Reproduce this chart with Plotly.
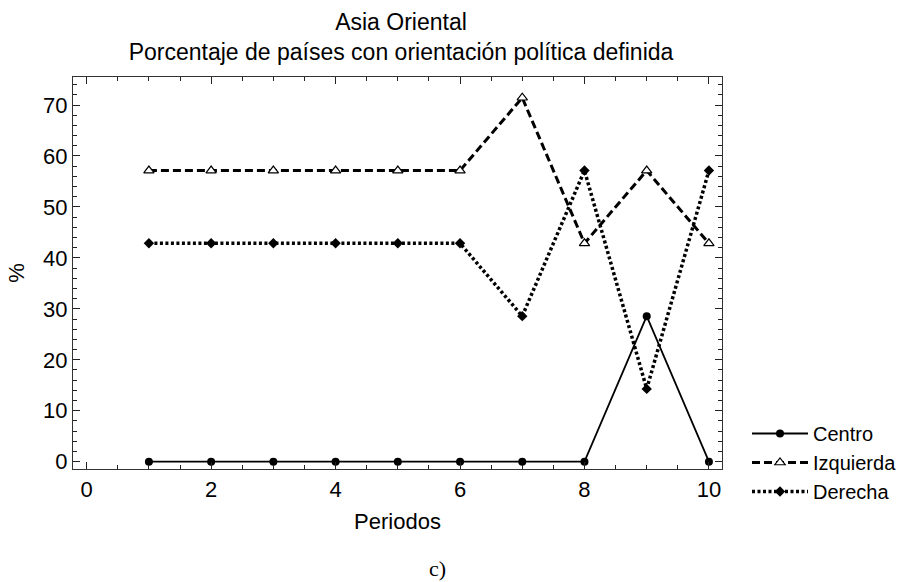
import plotly.graph_objects as go

periodos = [1, 2, 3, 4, 5, 6, 7, 8, 9, 10]
centro = [0, 0, 0, 0, 0, 0, 0, 0, 28.57, 0]
izquierda = [57.14, 57.14, 57.14, 57.14, 57.14, 57.14, 71.43, 42.86, 57.14, 42.86]
derecha = [42.86, 42.86, 42.86, 42.86, 42.86, 42.86, 28.57, 57.14, 14.29, 57.14]
x_ticks = [0, 2, 4, 6, 8, 10]
y_ticks = [0, 10, 20, 30, 40, 50, 60, 70]

W, H = 907, 582
L, R, T, B = 73, 185, 77, 113
PW, PH = W - L - R, H - T - B

fig = go.Figure()
fig.add_trace(go.Scatter(x=periodos, y=centro, name="Centro", mode="lines+markers",
                         line=dict(color="black", width=1.8, dash="solid"),
                         marker=dict(symbol="circle", size=8, color="black")))
fig.add_trace(go.Scatter(x=periodos, y=izquierda, name="Izquierda", mode="lines+markers",
                         line=dict(color="black", width=3, dash="8px,4px"),
                         marker=dict(symbol="triangle-up", size=9, color="white",
                                     line=dict(width=1.2, color="black"))))
fig.add_trace(go.Scatter(x=periodos, y=derecha, name="Derecha", mode="lines+markers",
                         line=dict(color="black", width=3.5, dash="3px,2.5px"),
                         marker=dict(symbol="diamond", size=8, color="black")))

font = "Liberation Sans, Arial, sans-serif"
fig.update_layout(
    width=W, height=H,
    paper_bgcolor="white", plot_bgcolor="white",
    margin=dict(l=L, r=R, t=T, b=B, autoexpand=False),
    title=dict(text="Asia Oriental<br>Porcentaje de países con orientación política definida",
               x=(401 - L) / PW, xref="paper", xanchor="center",
               y=1 - 30 / H, yref="container", yanchor="top",
               font=dict(family=font, size=23, color="black")),
    font=dict(family=font, size=22, color="black"),
    showlegend=True,
    legend=dict(x=(752 - L - 5) / PW, xanchor="left", y=(H - B - 414) / PH, yanchor="top",
                font=dict(family=font, size=20, color="black"),
                tracegroupgap=0, itemwidth=56, bgcolor="rgba(0,0,0,0)"),
    xaxis=dict(range=[-0.22, 10.21], tickvals=x_ticks,
               ticks="inside", ticklen=7, tickwidth=1, tickcolor="#222",
               showline=True, linecolor="#333", linewidth=1.4, mirror="ticks",
               showgrid=False, zeroline=False,
               minor=dict(tickvals=[v / 2 for v in range(0, 21)], ticks="inside",
                          ticklen=4, tickcolor="#222"),
               title=dict(text="Periodos", font=dict(family=font, size=22), standoff=13),
               tickfont=dict(family=font, size=22)),
    yaxis=dict(range=[-1.43, 75.5], tickvals=y_ticks,
               ticks="inside", ticklen=7, tickwidth=1, tickcolor="#222",
               showline=True, linecolor="#333", linewidth=1.4, mirror="ticks",
               showgrid=False, zeroline=False,
               minor=dict(tickvals=list(range(0, 76, 2)), ticks="inside",
                          ticklen=4, tickcolor="#222"),
               title=dict(text="%", font=dict(family=font, size=22), standoff=12),
               tickfont=dict(family=font, size=22)),
)

fig.add_annotation(text="c)", x=(437 - L) / PW, y=-(568 - (H - B)) / PH,
                   xref="paper", yref="paper", showarrow=False,
                   xanchor="center", yanchor="middle",
                   font=dict(family="Liberation Serif, Times New Roman, serif", size=22, color="black"))

fig.write_html("out.html", config={"displayModeBar": False},
               post_script="document.body.style.margin='0px';document.body.style.overflow='hidden';")
